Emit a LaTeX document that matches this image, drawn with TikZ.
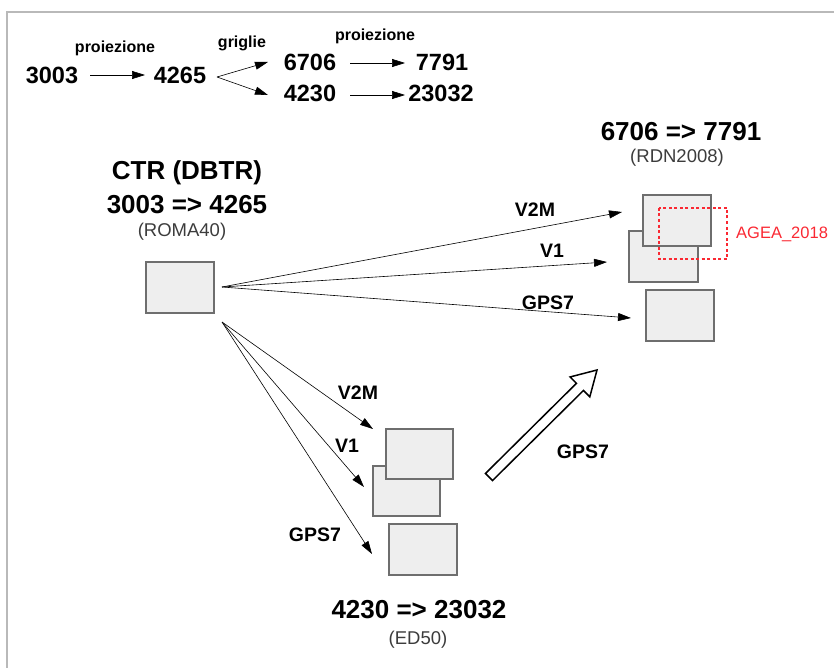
\documentclass[tikz,border=0pt]{standalone}
\usepackage{fontspec}
\setmainfont{Liberation Sans}
\usetikzlibrary{arrows.meta,calc}
\definecolor{boxfill}{RGB}{238,238,238}
\definecolor{boxline}{RGB}{110,110,110}
\definecolor{frameline}{RGB}{185,185,185}
\definecolor{subgray}{RGB}{60,60,60}
\definecolor{agea}{RGB}{250,40,50}
\tikzset{
  lbl/.style={font=\bfseries\fontsize{16}{18}\selectfont, inner sep=0pt},
  code/.style={font=\bfseries\fontsize{23.5}{27}\selectfont, inner sep=0pt},
  title/.style={font=\bfseries\fontsize{26}{30}\selectfont, inner sep=0pt},
  sub/.style={font=\fontsize{18.5}{21}\selectfont, text=subgray, inner sep=0pt},
  alabel/.style={font=\bfseries\fontsize{19.5}{22}\selectfont, inner sep=0pt},
  sheet/.style={draw=boxline, fill=boxfill, line width=1.6pt},
  conn/.style={draw=black, line width=0.6pt, -{Triangle[length=13pt,width=8pt]}},
}
\begin{document}
\begin{tikzpicture}[x=1pt,y=-1pt]
\useasboundingbox (0,0) rectangle (834,668);
% frame
\draw[frameline, line width=1.5pt] (7,668) -- (7,12) -- (834,12);

% top row
\node[lbl] (p1) at (115,48) {proiezione};
\node[code] (c3003) at (52,75) {3003};
\node[code] (c4265) at (180,75) {4265};
\node[lbl] (gr) at (242,43) {griglie};
\node[code] (c6706) at (310,62) {6706};
\node[code] (c4230) at (310,93) {4230};
\node[lbl] (p2) at (375,36) {proiezione};
\node[code] (c7791) at (442,62) {7791};
\node[code] (c23032) at (441,93) {23032};
\coordinate (s1) at (90,75); \coordinate (e1) at (145,75);
\draw[conn] (s1) -- (e1);
\coordinate (g0) at (217,77);
\coordinate (g1) at (268,62); \coordinate (g2) at (268,95);
\draw[conn] (g0) -- (g1);
\draw[conn] (g0) -- (g2);
\coordinate (s2) at (350,63); \coordinate (e2) at (405,63);
\coordinate (s3) at (350,95); \coordinate (e3) at (405,95);
\draw[conn] (s2) -- (e2);
\draw[conn] (s3) -- (e3);

% titles
\node[title] (tCTR) at (187,173) {CTR (DBTR)};
\node[title] (tCTR2) at (187,205) {3003 => 4265};
\node[sub] (sCTR) at (182,232) {(ROMA40)};
\node[title] (tRDN) at (681,132) {6706 => 7791};
\node[sub] (sRDN) at (677,158) {(RDN2008)};
\node[title] (tED) at (419,610) {4230 => 23032};
\node[sub] (sED) at (418,640) {(ED50)};

% sheets
\draw[sheet] (146,262) rectangle (214,313);
\draw[sheet] (629,231) rectangle (698,282);
\draw[sheet] (643,195) rectangle (711,246);
\draw[sheet] (646,290) rectangle (714,341);
\draw[sheet] (373,466) rectangle (440,516);
\draw[sheet] (386,429) rectangle (453,479);
\draw[sheet] (389,524) rectangle (457,575);

% AGEA
\draw[draw=agea, line width=1.3pt, dash pattern=on 3pt off 2.5pt] (659,208) rectangle (727,259);
\node[font=\fontsize{16.5}{20}\selectfont, text=agea, anchor=west, inner sep=0pt] (agealbl) at (736,234) {AGEA\_2018};

% arrows from CTR to RDN
\coordinate (a0) at (222,287);
\coordinate (aV2M) at (622,212);
\coordinate (aV1) at (607,262);
\coordinate (aGPS) at (631,318);
\draw[conn] (a0) -- (aV2M);
\draw[conn] (a0) -- (aV1);
\draw[conn] (a0) -- (aGPS);
\node[alabel] (lV2Ma) at (535,210) {V2M};
\node[alabel] (lV1a) at (552,251) {V1};
\node[alabel] (lGPSa) at (548,303) {GPS7};

% arrows from CTR to ED50
\coordinate (b0) at (222,322);
\coordinate (bV2M) at (373,429);
\coordinate (bV1) at (364,487);
\coordinate (bGPS) at (372,554);
\draw[conn] (b0) -- (bV2M);
\draw[conn] (b0) -- (bV1);
\draw[conn] (b0) -- (bGPS);
\node[alabel] (lV2Mb) at (358,393) {V2M};
\node[alabel] (lV1b) at (347,446) {V1};
\node[alabel] (lGPSb) at (315,535) {GPS7};

% big hollow arrow
\coordinate (h0) at (489,477);
\coordinate (h1) at (597,370);
\coordinate (hn) at ($(h1)!24pt!(h0)$);
\draw[black, fill=white, line width=1.5pt, line join=miter]
  ($(h0)!5pt!90:(h1)$) -- ($(hn)!5pt!90:(h1)$) -- ($(hn)!14pt!90:(h1)$) -- (h1)
  -- ($(hn)!14pt!-90:(h1)$) -- ($(hn)!5pt!-90:(h1)$) -- ($(h0)!5pt!-90:(h1)$) -- cycle;
\node[alabel] (lGPSc) at (583,452) {GPS7};
\end{tikzpicture}
\end{document}
